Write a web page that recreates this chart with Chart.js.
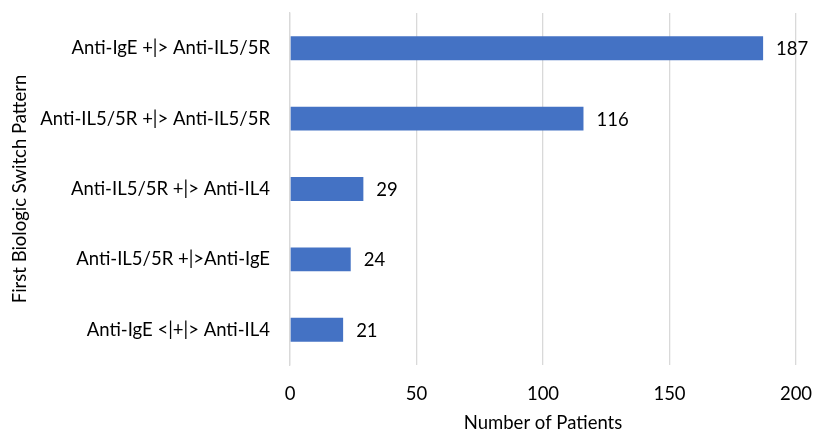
<!DOCTYPE html>
<html>
<head>
<meta charset="utf-8">
<script src="https://cdn.jsdelivr.net/npm/chart.js@4.4.0/dist/chart.umd.min.js"></script>
<style>
  html, body { margin: 0; padding: 0; background: #fff; }
  #wrap { width: 814px; height: 431px; }
</style>
</head>
<body>
<div id="wrap"><canvas id="switchChart"></canvas></div>
<script>
const patterns = [
  "Anti-IgE +|> Anti-IL5/5R",
  "Anti-IL5/5R +|> Anti-IL5/5R",
  "Anti-IL5/5R +|> Anti-IL4",
  "Anti-IL5/5R +|>Anti-IgE",
  "Anti-IgE <|+|> Anti-IL4"
];
const patients = [187, 116, 29, 24, 21];
const xTicks = [0, 50, 100, 150, 200];

const fontFamily = "Lato, 'Open Sans', sans-serif";
const fontSize = 18.5;

// draws the number at the end of each bar
const barValues = {
  id: "barValues",
  afterDatasetsDraw(chart) {
    const ctx = chart.ctx;
    const meta = chart.getDatasetMeta(0);
    ctx.save();
    ctx.font = fontSize + "px " + fontFamily;
    ctx.fillStyle = "#000";
    ctx.textAlign = "left";
    ctx.textBaseline = "middle";
    meta.data.forEach((bar, i) => {
      ctx.fillText(String(patients[i]), bar.x + 13, bar.y + 1);
    });
    ctx.restore();
  }
};

function drawChart() {
  new Chart(document.getElementById("switchChart"), {
    type: "bar",
    data: {
      labels: patterns,
      datasets: [{
        data: patients,
        backgroundColor: "#4472C4",
        categoryPercentage: 1,
        barPercentage: 0.34
      }]
    },
    options: {
      indexAxis: "y",
      responsive: true,
      maintainAspectRatio: false,
      animation: false,
      layout: { padding: { top: 13, right: 18, bottom: 0, left: 9 } },
      plugins: { legend: { display: false }, tooltip: { enabled: false } },
      scales: {
        x: {
          min: 0,
          max: 200,
          afterBuildTicks: axis => { axis.ticks = xTicks.map(v => ({ value: v })); },
          afterFit: s => { s.height = 66; s.paddingLeft = 0; s.paddingRight = 0; },
          grid: { color: "#d9d9d9", lineWidth: 1.3, drawTicks: false },
          border: { display: false },
          ticks: { color: "#000", padding: 18, font: { family: fontFamily, size: fontSize } },
          title: {
            display: true,
            text: "Number of Patients",
            color: "#000",
            padding: { top: 6, bottom: -3 },
            font: { family: fontFamily, size: fontSize }
          }
        },
        y: {
          afterFit: s => { s.width = 281; s.paddingTop = 0; s.paddingBottom = 0; },
          grid: { display: false, drawTicks: false },
          border: { display: true, color: "#d9d9d9", width: 1.3 },
          ticks: { color: "#000", padding: 20, font: { family: fontFamily, size: fontSize } },
          title: {
            display: true,
            text: "First Biologic Switch Pattern",
            color: "#000",
            padding: { top: 0, bottom: 11 },
            font: { family: fontFamily, size: fontSize }
          }
        }
      }
    },
    plugins: [barValues]
  });
}

document.fonts.load(fontSize + "px Lato").then(drawChart, drawChart);
</script>
</body>
</html>
